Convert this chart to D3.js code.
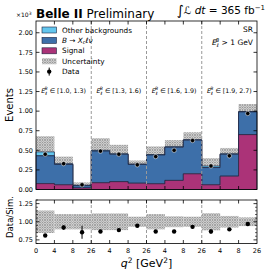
<!DOCTYPE html>
<html>
<head>
<meta charset="utf-8">
<script src="https://cdn.jsdelivr.net/npm/d3@7"></script>
<style>
  body { margin: 0; background: #fff; }
  text { font-family: "DejaVu Sans", sans-serif; fill: #000; }
</style>
</head>
<body>
<div id="chart"></div>
<script>
// 12 bins: 4 E_l^B slices x 3 q^2 bins, values in units of 10^3 events
var groups = ["[1.0, 1.3)", "[1.3, 1.6)", "[1.6, 1.9)", "[1.9, 2.7)"];
var edgeLabels = ["0", "4", "8", "26", "4", "8", "26", "4", "8", "26", "4", "8", "26"];

var signal = [0.075, 0.060, 0.020, 0.086, 0.100, 0.080, 0.073, 0.116, 0.200, 0.060, 0.170, 0.700];
var xclnu  = [0.355, 0.260, 0.030, 0.404, 0.350, 0.240, 0.367, 0.424, 0.430, 0.220, 0.280, 0.290];
var other  = [0.050, 0.010, 0.005, 0.010, 0.005, 0.005, 0.005, 0.005, 0.005, 0.020, 0.005, 0.005];
var unc    = [0.200, 0.090, 0.035, 0.155, 0.115, 0.045, 0.105, 0.085, 0.095, 0.100, 0.075, 0.095];
var data   = [0.450, 0.330, 0.060, 0.490, 0.450, 0.315, 0.420, 0.500, 0.625, 0.300, 0.430, 0.970];
var dataErr = [0.010, 0.010, 0.005, 0.010, 0.010, 0.010, 0.010, 0.010, 0.012, 0.008, 0.010, 0.015];

var ratio    = [0.810, 0.920, 0.855, 0.865, 0.885, 0.945, 0.865, 0.865, 0.930, 0.865, 0.895, 0.970];
var ratioErr = [0.020, 0.030, 0.090, 0.020, 0.020, 0.020, 0.015, 0.015, 0.020, 0.030, 0.020, 0.015];
var ratioUnc = [0.155, 0.105, 0.105, 0.115, 0.115, 0.070, 0.105, 0.075, 0.070, 0.118, 0.080, 0.060];

var width = 269, height = 273;
var cOther = "#63c6ee", cXc = "#3d6fa9", cSig = "#ab3378", cEdge = "#1c2440";

var svg = d3.select("#chart").append("svg")
  .attr("width", width).attr("height", height);

var defs = svg.append("defs");
var pat = defs.append("pattern").attr("id", "hatch")
  .attr("patternUnits", "userSpaceOnUse").attr("width", 2.5).attr("height", 2.5);
pat.append("rect").attr("width", 2.5).attr("height", 2.5).attr("fill", "#e4e4e4");
pat.append("path").attr("d", "M0,0L2.5,2.5M2.5,0L0,2.5").attr("stroke", "#8a8a8a").attr("stroke-width", 0.7);

var x = d3.scaleLinear().domain([0, 12]).range([36, 257]);
var y = d3.scaleLinear().domain([0, 2.15]).range([189.5, 21]);
var yr = d3.scaleLinear().domain([0.7, 1.3]).range([243.5, 200]);

var idx = d3.range(12);
var totals = idx.map(function(i) { return signal[i] + xclnu[i] + other[i]; });

// uncertainty band behind the stack
svg.append("g").selectAll("rect").data(idx).enter().append("rect")
  .attr("x", function(i) { return x(i); })
  .attr("width", function(i) { return x(i + 1) - x(i); })
  .attr("y", function(i) { return y(totals[i] + unc[i]); })
  .attr("height", function(i) { return y(totals[i] - unc[i]) - y(totals[i] + unc[i]); })
  .attr("fill", "url(#hatch)");

// stacked step histograms
var stack = d3.stack().keys(["signal", "xclnu", "other"])(idx.map(function(i) {
  return { signal: signal[i], xclnu: xclnu[i], other: other[i] };
}));
var colors = [cSig, cXc, cOther];

var area = d3.area()
  .curve(d3.curveStepAfter)
  .x(function(d, k) { return x(k); })
  .y0(function(d) { return y(d[0]); })
  .y1(function(d) { return y(d[1]); });

stack.slice().reverse().forEach(function(layer) {
  var pts = layer.map(function(d) { return d; });
  pts.push(layer[layer.length - 1]);
  svg.append("path").datum(pts)
    .attr("d", area)
    .attr("fill", colors[layer.index])
    .attr("stroke", cEdge).attr("stroke-width", 0.7);
});

// dashed separators
[3, 6, 9].forEach(function(b) {
  svg.append("line").attr("x1", x(b)).attr("x2", x(b)).attr("y1", y.range()[1]).attr("y2", y.range()[0])
    .attr("stroke", "#999").attr("stroke-dasharray", "3,2").attr("stroke-width", 1);
  svg.append("line").attr("x1", x(b)).attr("x2", x(b)).attr("y1", yr.range()[1]).attr("y2", yr.range()[0])
    .attr("stroke", "#999").attr("stroke-dasharray", "3,2").attr("stroke-width", 1);
});

// data points
var dg = svg.append("g");
dg.selectAll("line").data(idx).enter().append("line")
  .attr("x1", function(i) { return x(i + 0.5); }).attr("x2", function(i) { return x(i + 0.5); })
  .attr("y1", function(i) { return y(data[i] - dataErr[i]); })
  .attr("y2", function(i) { return y(data[i] + dataErr[i]); })
  .attr("stroke", "#000").attr("stroke-width", 1);
dg.selectAll("circle").data(idx).enter().append("circle")
  .attr("cx", function(i) { return x(i + 0.5); }).attr("cy", function(i) { return y(data[i]); })
  .attr("r", 2.2).attr("fill", "#000").attr("stroke", "#fff").attr("stroke-width", 0.5);

// ratio panel
svg.append("g").selectAll("rect").data(idx).enter().append("rect")
  .attr("x", function(i) { return x(i); })
  .attr("width", function(i) { return x(i + 1) - x(i); })
  .attr("y", function(i) { return yr(1 + ratioUnc[i]); })
  .attr("height", function(i) { return yr(1 - ratioUnc[i]) - yr(1 + ratioUnc[i]); })
  .attr("fill", "url(#hatch)");

var rg = svg.append("g");
rg.selectAll("line").data(idx).enter().append("line")
  .attr("x1", function(i) { return x(i + 0.5); }).attr("x2", function(i) { return x(i + 0.5); })
  .attr("y1", function(i) { return yr(ratio[i] - ratioErr[i]); })
  .attr("y2", function(i) { return yr(ratio[i] + ratioErr[i]); })
  .attr("stroke", "#000").attr("stroke-width", 1);
rg.selectAll("circle").data(idx).enter().append("circle")
  .attr("cx", function(i) { return x(i + 0.5); }).attr("cy", function(i) { return yr(ratio[i]); })
  .attr("r", 2.2).attr("fill", "#000");

// axes (inward ticks, matplotlib style)
function frame(ys, majors, minors, labels) {
  var g = svg.append("g");
  var x0 = x.range()[0], x1 = x.range()[1], y0 = ys.range()[0], y1 = ys.range()[1];
  g.append("rect").attr("x", x0).attr("y", y1).attr("width", x1 - x0).attr("height", y0 - y1)
    .attr("fill", "none").attr("stroke", "#000").attr("stroke-width", 0.8);
  majors.forEach(function(v) {
    g.append("line").attr("x1", x0).attr("x2", x0 + 3.5).attr("y1", ys(v)).attr("y2", ys(v)).attr("stroke", "#000").attr("stroke-width", 0.8);
    g.append("line").attr("x1", x1).attr("x2", x1 - 3.5).attr("y1", ys(v)).attr("y2", ys(v)).attr("stroke", "#000").attr("stroke-width", 0.8);
    g.append("text").attr("x", x0 - 3).attr("y", ys(v)).attr("dy", "0.35em")
      .attr("text-anchor", "end").attr("font-size", 6.5).text(d3.format(".2f")(v));
  });
  minors.forEach(function(v) {
    g.append("line").attr("x1", x0).attr("x2", x0 + 2).attr("y1", ys(v)).attr("y2", ys(v)).attr("stroke", "#000").attr("stroke-width", 0.6);
    g.append("line").attr("x1", x1).attr("x2", x1 - 2).attr("y1", ys(v)).attr("y2", ys(v)).attr("stroke", "#000").attr("stroke-width", 0.6);
  });
  d3.range(1, 12).forEach(function(b) {
    g.append("line").attr("x1", x(b)).attr("x2", x(b)).attr("y1", y0).attr("y2", y0 - 3.5).attr("stroke", "#000").attr("stroke-width", 0.8);
    g.append("line").attr("x1", x(b)).attr("x2", x(b)).attr("y1", y1).attr("y2", y1 + 3.5).attr("stroke", "#000").attr("stroke-width", 0.8);
  });
  if (labels) {
    labels.forEach(function(t, b) {
      g.append("text").attr("x", x(b)).attr("y", y0 + 9).attr("text-anchor", "middle")
        .attr("font-size", 6.5).text(t);
    });
  }
}
frame(y, d3.range(0, 2.01, 0.25), [], null);
frame(yr, [0.75, 1.0, 1.25], d3.range(0.7, 1.3001, 0.05).filter(function(v) {
  return Math.abs(v / 0.25 - Math.round(v / 0.25)) > 0.01;
}), edgeLabels);

// group labels
groups.forEach(function(gname, k) {
  var t = svg.append("text").attr("x", x(3 * k + 1.5)).attr("y", 93)
    .attr("text-anchor", "middle").attr("font-size", 6.3);
  t.append("tspan").attr("font-style", "italic").text("E");
  t.append("tspan").attr("font-size", 4.5).attr("dy", 2).attr("font-style", "italic").text("ℓ");
  t.append("tspan").attr("font-size", 4.5).attr("dx", -2.5).attr("dy", -5).attr("font-style", "italic").text("B");
  t.append("tspan").attr("dy", 3).text(" ∈ " + gname);
});

// legend
var legend = [
  { label: "Other backgrounds", color: cOther },
  { label: "B→X", color: cXc },
  { label: "Signal", color: cSig },
  { label: "Uncertainty", color: "url(#hatch)" },
  { label: "Data", color: null }
];
legend.forEach(function(d, k) {
  var ly = 30 + k * 10.4;
  if (d.color) {
    svg.append("rect").attr("x", 42).attr("y", ly - 3).attr("width", 14.5).attr("height", 6)
      .attr("fill", d.color).attr("stroke", d.label === "Uncertainty" ? "none" : cEdge).attr("stroke-width", 0.6);
  } else {
    svg.append("line").attr("x1", 49.2).attr("x2", 49.2).attr("y1", ly - 4).attr("y2", ly + 4).attr("stroke", "#000");
    svg.append("circle").attr("cx", 49.2).attr("cy", ly).attr("r", 2.2).attr("fill", "#000");
  }
  var t = svg.append("text").attr("x", 62).attr("y", ly).attr("dy", "0.35em").attr("font-size", 7.3);
  if (k === 1) {
    t.append("tspan").attr("font-style", "italic").text("B");
    t.append("tspan").text(" → ");
    t.append("tspan").attr("font-style", "italic").text("X");
    t.append("tspan").attr("font-size", 5).attr("dy", 1.5).attr("font-style", "italic").text("c");
    t.append("tspan").attr("dy", -1.5).attr("font-style", "italic").text("ℓν");
  } else {
    t.text(d.label);
  }
});

// titles
var title = svg.append("text").attr("x", 36).attr("y", 18).attr("font-size", 12);
title.append("tspan").attr("font-weight", "bold").text("Belle II");
title.append("tspan").text(" Preliminary");

var sc = svg.append("text").attr("x", 16).attr("y", 17).attr("font-size", 6);
sc.append("tspan").text("×10");
sc.append("tspan").attr("font-size", 4.5).attr("dy", -2.5).text("3");

var lumi = svg.append("text").attr("x", 265).attr("y", 14).attr("text-anchor", "end").attr("font-size", 10.5);
lumi.append("tspan").attr("font-size", 13.5).attr("dy", 1).text("∫");
lumi.append("tspan").attr("dy", -1).attr("font-style", "italic").text("ℒ dt");
lumi.append("tspan").text(" = 365 fb");
lumi.append("tspan").attr("font-size", 7).attr("dy", -4).text("−1");

svg.append("text").attr("x", 253).attr("y", 32).attr("text-anchor", "end").attr("font-size", 7.5).text("SR");
var cut = svg.append("text").attr("x", 253).attr("y", 45).attr("text-anchor", "end").attr("font-size", 7.5);
cut.append("tspan").attr("font-style", "italic").text("E");
cut.append("tspan").attr("font-size", 5).attr("dy", 2).attr("font-style", "italic").text("ℓ");
cut.append("tspan").attr("font-size", 5).attr("dx", -3).attr("dy", -5.5).attr("font-style", "italic").text("B");
cut.append("tspan").attr("dy", 3.5).text(" > 1 GeV");

// axis titles
svg.append("text").attr("transform", "translate(13,105) rotate(-90)")
  .attr("text-anchor", "middle").attr("font-size", 10).text("Events");
svg.append("text").attr("transform", "translate(13,217) rotate(-90)")
  .attr("text-anchor", "middle").attr("font-size", 8.5).text("Data/Sim.");

var xl = svg.append("text").attr("x", 146.5).attr("y", 267).attr("text-anchor", "middle").attr("font-size", 11);
xl.append("tspan").attr("font-style", "italic").text("q");
xl.append("tspan").attr("font-size", 7.5).attr("dy", -4.5).text("2");
xl.append("tspan").attr("dy", 4.5).text(" [GeV");
xl.append("tspan").attr("font-size", 7.5).attr("dy", -4.5).text("2");
xl.append("tspan").attr("dy", 4.5).text("]");
</script>
</body>
</html>
